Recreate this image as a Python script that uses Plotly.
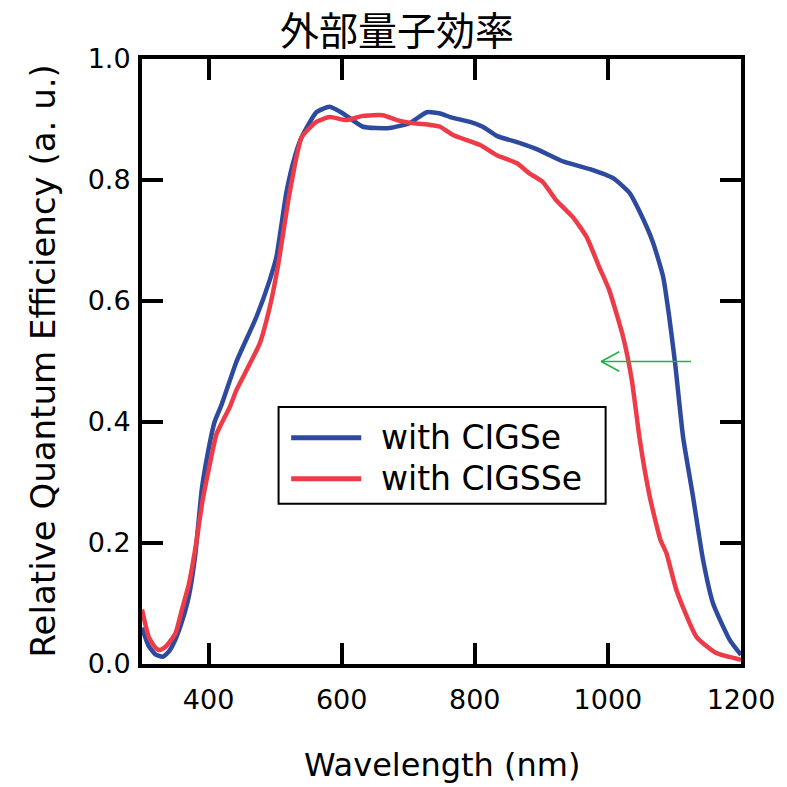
import plotly.graph_objects as go

# External quantum efficiency spectra
wl_cigse = [300, 310, 320, 331, 340, 350, 360, 370, 380, 390, 400, 409, 420, 442, 472,
            492, 502, 517, 530, 540, 562, 582, 602, 632, 672, 702, 728, 748, 763, 793,
            812, 833, 868, 893, 932, 973, 1008, 1033, 1048, 1068, 1083, 1092, 1101, 1113,
            1128, 1143, 1158, 1183, 1200]
qe_cigse = [0.060, 0.030, 0.016, 0.012, 0.020, 0.040, 0.070, 0.110, 0.180, 0.290, 0.355,
            0.400, 0.430, 0.500, 0.574, 0.635, 0.673, 0.780, 0.840, 0.871, 0.912, 0.921,
            0.910, 0.888, 0.886, 0.894, 0.912, 0.910, 0.904, 0.896, 0.888, 0.873, 0.861,
            0.851, 0.831, 0.818, 0.803, 0.778, 0.747, 0.696, 0.640, 0.575, 0.497, 0.375,
            0.276, 0.172, 0.100, 0.040, 0.015]

wl_cigsse = [300, 310, 320, 326, 335, 350, 360, 370, 380, 391, 400, 412, 432, 442, 477,
             492, 504, 522, 540, 562, 582, 607, 632, 662, 683, 707, 733, 748, 768, 808,
             833, 863, 882, 902, 922, 947, 968, 987, 1002, 1023, 1036, 1048, 1063, 1079,
             1088, 1103, 1133, 1163, 1200]
qe_cigsse = [0.090, 0.045, 0.027, 0.023, 0.028, 0.050, 0.090, 0.130, 0.190, 0.270, 0.320,
             0.380, 0.425, 0.453, 0.530, 0.590, 0.656, 0.780, 0.871, 0.896, 0.904, 0.899,
             0.906, 0.907, 0.899, 0.894, 0.891, 0.888, 0.874, 0.858, 0.841, 0.828, 0.811,
             0.797, 0.767, 0.739, 0.706, 0.656, 0.618, 0.540, 0.469, 0.370, 0.276, 0.205,
             0.183, 0.122, 0.045, 0.018, 0.007]

series_names = ["with CIGSe", "with CIGSSe"]
series_colors = ["#2E4A9E", "#EE3B48"]

x_ticks = [400, 600, 800, 1000, 1200]
y_ticks = [0.0, 0.2, 0.4, 0.6, 0.8, 1.0]

# band-edge shift arrow (from, to) at QE = 0.5
arrow_wl = [1125, 990]
arrow_qe = 0.5

JP = "Noto Sans CJK JP"
SANS = "DejaVu Sans"

fig = go.Figure()
for wl, qe, name, col in [(wl_cigse, qe_cigse, series_names[0], series_colors[0]),
                          (wl_cigsse, qe_cigsse, series_names[1], series_colors[1])]:
    fig.add_trace(go.Scatter(x=wl, y=qe, mode="lines", name=name,
                             line=dict(color=col, width=4.5, shape="spline", smoothing=0.5),
                             showlegend=False))

# arrow drawn as a shaft plus an open chevron head
head_dx, head_dy = 27, 0.016
fig.add_trace(go.Scatter(
    x=[arrow_wl[0], arrow_wl[1], None, arrow_wl[1] + head_dx, arrow_wl[1], arrow_wl[1] + head_dx],
    y=[arrow_qe, arrow_qe, None, arrow_qe + head_dy, arrow_qe, arrow_qe - head_dy],
    mode="lines", line=dict(color="#22B04B", width=1.6), showlegend=False, hoverinfo="skip"))

axis_common = dict(showline=True, linewidth=4, linecolor="black", mirror="ticks",
                   ticks="inside", ticklen=21, tickwidth=4, tickcolor="black",
                   showgrid=False, zeroline=False,
                   tickfont=dict(family=SANS, size=27, color="black"))

fig.update_layout(
    width=787, height=787,
    margin=dict(l=142, r=44, t=59, b=123),
    paper_bgcolor="white", plot_bgcolor="white",
    xaxis=dict(range=[300, 1200], tickvals=x_ticks, ticktext=[str(v) for v in x_ticks],
               ticklabelstandoff=9, **axis_common),
    yaxis=dict(range=[0, 1.0], tickvals=y_ticks, ticktext=[f"{v:.1f}" for v in y_ticks],
               ticklabelstandoff=2, **axis_common),
)

# title and axis titles
fig.add_annotation(text="外部量子効率", xref="paper", yref="paper", x=0.426, y=1.0,
                   yshift=31, xanchor="center", yanchor="middle", showarrow=False,
                   font=dict(family=JP, size=39, color="black"))
fig.add_annotation(text="Wavelength (nm)", xref="paper", yref="paper", x=0.5, y=0,
                   yshift=-101, xanchor="center", yanchor="middle", showarrow=False,
                   font=dict(family=SANS, size=32, color="black"))
fig.add_annotation(text="Relative Quantum Efficiency (a. u.)", xref="paper", yref="paper",
                   x=0, y=0.5, xshift=-100, xanchor="center", yanchor="middle",
                   textangle=-90, showarrow=False,
                   font=dict(family=SANS, size=34, color="black"))

# legend box
lx0, lx1, ly0, ly1 = 0.228, 0.774, 0.265, 0.425
fig.add_shape(type="rect", xref="paper", yref="paper", x0=lx0, x1=lx1, y0=ly0, y1=ly1,
              line=dict(color="black", width=2), fillcolor="white", layer="above")
row_y = [0.374, 0.306]
for name, col, yy in zip(series_names, series_colors, row_y):
    fig.add_shape(type="line", xref="paper", yref="paper", x0=0.249, x1=0.366, y0=yy, y1=yy,
                  line=dict(color=col, width=5), layer="above")
    fig.add_annotation(text=name, xref="paper", yref="paper", x=0.395, y=yy,
                       xanchor="left", yanchor="middle", showarrow=False,
                       font=dict(family=SANS, size=33, color="black"))

fig.write_html("out.html")
